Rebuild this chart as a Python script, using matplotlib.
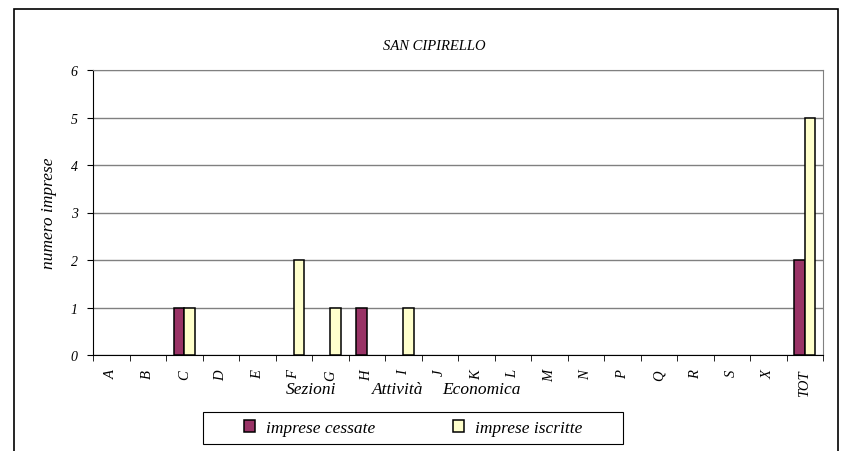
import matplotlib.pyplot as plt
import numpy as np
from matplotlib.patches import Rectangle

# dati
sezioni = ['A', 'B', 'C', 'D', 'E', 'F', 'G', 'H', 'I', 'J', 'K', 'L', 'M', 'N',
           'P', 'Q', 'R', 'S', 'X', 'TOT']
cessate = [0, 0, 1, 0, 0, 0, 0, 1, 0, 0, 0, 0, 0, 0, 0, 0, 0, 0, 0, 2]
iscritte = [0, 0, 1, 0, 0, 2, 1, 0, 1, 0, 0, 0, 0, 0, 0, 0, 0, 0, 0, 5]

plt.rcParams['font.family'] = 'Liberation Serif'
plt.rcParams['font.style'] = 'italic'

W, H = 843, 452
fig = plt.figure(figsize=(W / 100, H / 100), dpi=100)
ax = fig.add_axes([93 / W, 1 - 356 / H, 730 / W, 285 / H])

x = np.arange(len(sezioni))
w = 0.29
# niente bordo per le barre a zero
bordi_c = ['black' if v > 0 else 'none' for v in cessate]
bordi_i = ['black' if v > 0 else 'none' for v in iscritte]
ax.bar(x - w / 2, cessate, w, color='#993366', edgecolor=bordi_c, linewidth=1.1,
       label='imprese cessate', zorder=3)
ax.bar(x + w / 2, iscritte, w, color='#FFFFCC', edgecolor=bordi_i, linewidth=1.1,
       label='imprese iscritte', zorder=3)

ax.set_xlim(-0.5, len(sezioni) - 0.5)
ax.set_ylim(0, 6)
ax.set_yticks(range(7))
ax.set_yticklabels([str(i) for i in range(7)], fontsize=10)
ax.yaxis.grid(True, color='#808080', linewidth=1, zorder=0)

ax.set_xticks(x)
ax.set_xticklabels(sezioni, rotation=90, fontsize=10.5)
ax.tick_params(axis='x', which='major', length=0, pad=10)
ax.set_xticks(np.arange(-0.5, len(sezioni)), minor=True)
ax.tick_params(axis='x', which='minor', length=4, direction='out')
ax.tick_params(axis='y', length=4, direction='out', pad=7)

ax.spines['top'].set_color('#808080')
ax.spines['right'].set_color('#808080')

ax.set_ylabel('numero imprese', fontsize=12.5, labelpad=10)

# titolo asse x (tre parole separate come nell'originale)
for parola, cx in [('Sezioni', 311.5), ('Attività', 397.5), ('Economica', 481)]:
    fig.text(cx / W, 1 - 390 / H, parola, fontsize=12.5, ha='center', va='center')
fig.text(434 / W, 1 - 46 / H, 'SAN CIPIRELLO', fontsize=10.5, ha='center', va='center')

# cornice esterna
fig.patches.append(Rectangle((14 / W, -0.1), 824 / W, 1.1 - 10 / H,
                             transform=fig.transFigure, fill=False,
                             edgecolor='black', linewidth=1.2))

# legenda
fig.patches.append(Rectangle((203 / W, 1 - 445 / H), 420 / W, 32 / H,
                             transform=fig.transFigure, fill=False,
                             edgecolor='black', linewidth=0.8))
leg = fig.legend(loc='center', bbox_to_anchor=(413 / W, 1 - 429 / H), ncol=2,
                 fontsize=12.5, frameon=False, columnspacing=4.5,
                 handlelength=0.65, handleheight=0.65, handletextpad=0.6)
for h in leg.legend_handles:
    h.set_edgecolor('black')

fig.savefig('out.png', dpi=100)
